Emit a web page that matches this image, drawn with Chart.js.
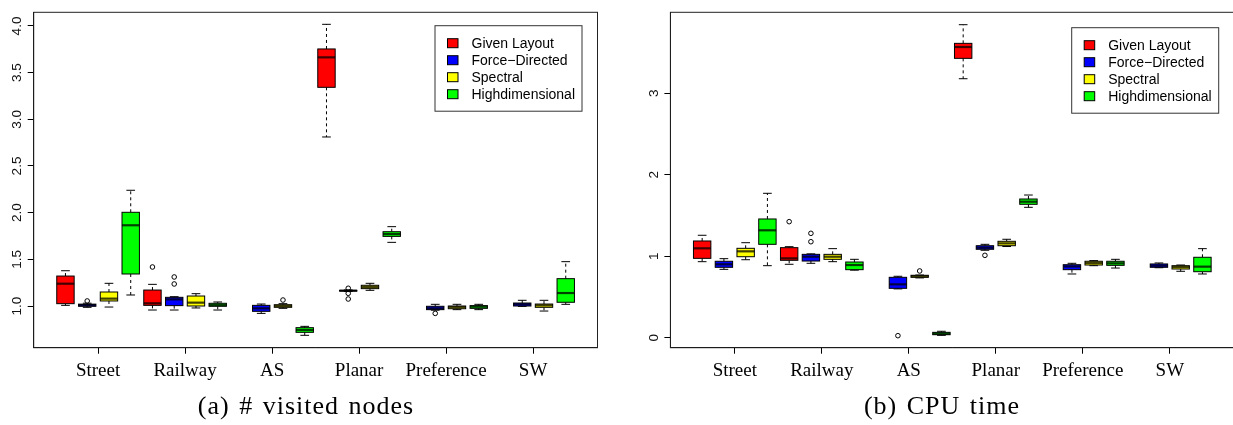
<!DOCTYPE html>
<html>
<head>
<meta charset="utf-8">
<script src="https://cdn.jsdelivr.net/npm/chart.js@4.4.1/dist/chart.umd.min.js"></script>
<style>
  html, body { margin: 0; padding: 0; background: #fff; }
  body { position: relative; width: 1233px; height: 425px; overflow: hidden; }
  .panel { position: absolute; top: 0; height: 425px; }
  #panelA { left: 0; width: 616px; }
  #panelB { left: 616px; width: 630px; }
  .caption {
    position: absolute; top: 391px; width: 340px; text-align: center;
    font-family: "Liberation Serif", "Times New Roman", serif; font-size: 26px;
    letter-spacing: 1px; word-spacing: 2px; color: #000; white-space: nowrap;
  }
  #capA { left: 136px; }
  #capB { left: 772px; }
</style>
</head>
<body>
<div class="panel" id="panelA"><canvas id="chartA" width="616" height="425"></canvas></div>
<div class="panel" id="panelB"><canvas id="chartB" width="630" height="425"></canvas></div>
<div class="caption" id="capA">(a) # visited nodes</div>
<div class="caption" id="capB">(b) CPU time</div>

<script>
// Graph classes on the x axis and the four layout methods compared in each class
const categories = ['Street', 'Railway', 'AS', 'Planar', 'Preference', 'SW'];
const seriesNames = ['Given Layout', 'Force\u2212Directed', 'Spectral', 'Highdimensional'];
const seriesColors = ['#ff0000', '#0000ff', '#ffff00', '#00ff00'];

// Box statistics per class: [lower whisker, Q1, median, Q3, upper whisker]; null = not measured
const visitedGiven    = [[1.007, 1.025, 1.239, 1.321, 1.378], [0.957, 1.007, 1.029, 1.171, 1.232], null, [2.811, 3.343, 3.664, 3.754, 4.018], null, null];
const visitedForce    = [[0.986, 0.997, 1.010, 1.020, 1.030], [0.957, 1.004, 1.071, 1.093, 1.100], [0.921, 0.943, 0.975, 1.007, 1.021], [1.155, 1.160, 1.164, 1.168, 1.172], [0.955, 0.961, 0.975, 0.997, 1.018], [0.996, 1.000, 1.018, 1.032, 1.061]];
const visitedSpectral = [[0.989, 1.054, 1.079, 1.150, 1.243], [0.979, 1.000, 1.036, 1.107, 1.132], [0.975, 0.986, 1.000, 1.014, 1.025], [1.168, 1.186, 1.204, 1.222, 1.243], [0.961, 0.971, 0.989, 1.000, 1.018], [0.946, 0.986, 1.007, 1.021, 1.061]];
const visitedHighdim  = [[1.118, 1.343, 1.865, 2.004, 2.240], [0.957, 0.997, 1.010, 1.029, 1.043], [0.686, 0.718, 0.743, 0.768, 0.782], [1.682, 1.746, 1.771, 1.796, 1.850], [0.961, 0.975, 0.993, 1.004, 1.018], [1.018, 1.040, 1.139, 1.293, 1.475]];

const cpuGiven    = [[0.934, 0.975, 1.098, 1.188, 1.258], [0.902, 0.951, 0.975, 1.106, 1.118], null, [3.179, 3.429, 3.568, 3.613, 3.842], null, null];
const cpuForce    = [[0.840, 0.865, 0.902, 0.939, 0.971], [0.914, 0.942, 0.995, 1.024, 1.030], [0.600, 0.607, 0.656, 0.742, 0.755], [1.074, 1.086, 1.106, 1.130, 1.147], [0.783, 0.836, 0.875, 0.897, 0.914], [0.860, 0.865, 0.885, 0.906, 0.918]];
const cpuSpectral = [[0.958, 0.995, 1.061, 1.098, 1.167], [0.934, 0.963, 0.995, 1.024, 1.094], [0.735, 0.742, 0.755, 0.767, 0.770], [1.120, 1.130, 1.159, 1.184, 1.209], [0.885, 0.893, 0.918, 0.939, 0.947], [0.816, 0.844, 0.868, 0.885, 0.893]];
const cpuHighdim  = [[0.885, 1.147, 1.319, 1.458, 1.773], [0.830, 0.836, 0.893, 0.930, 0.963], [0.030, 0.038, 0.050, 0.067, 0.080], [1.601, 1.638, 1.670, 1.703, 1.752], [0.856, 0.889, 0.914, 0.939, 0.963], [0.783, 0.811, 0.873, 0.988, 1.094]];

// Outlying observations per class
const visitedGivenOut    = [[], [1.418], [], [], [], []];
const visitedForceOut    = [[1.054], [1.311, 1.236], [], [1.190, 1.136, 1.075], [0.921], []];
const visitedSpectralOut = [[], [], [1.064], [], [], []];
const visitedHighdimOut  = [[], [], [], [], [], []];

const cpuGivenOut    = [[], [1.425], [], [], [], []];
const cpuForceOut    = [[], [1.282, 1.179], [0.026], [1.012], [], []];
const cpuSpectralOut = [[], [], [0.820], [], [], []];
const cpuHighdimOut  = [[], [], [], [], [], []];

// Axis ticks
const categoryTicks = [2.5, 6.5, 10.5, 14.5, 18.5, 22.5];
const visitedTicks = [1.0, 1.5, 2.0, 2.5, 3.0, 3.5, 4.0];
const visitedTickLabels = ['1.0', '1.5', '2.0', '2.5', '3.0', '3.5', '4.0'];
const cpuTicks = [0, 1, 2, 3];
const cpuTickLabels = ['0', '1', '2', '3'];

// Box position along the x axis: four boxes per class, one slot each
const slot = (series, cat) => 4 * cat + series + 1;

function buildDatasets(statsList, outList) {
  return statsList.map((stats, s) => ({
    label: seriesNames[s],
    stats: stats,
    boxColor: seriesColors[s],
    data: outList[s].flatMap((vals, c) => vals.map(v => ({ x: slot(s, c), y: v }))),
    pointStyle: 'circle',
    pointRadius: 2.3,
    pointBorderWidth: 1,
    pointBorderColor: '#000',
    pointBackgroundColor: 'rgba(255,255,255,0)',
    showLine: false
  }));
}

function strokeSeg(ctx, x1, y1, x2, y2) {
  ctx.beginPath(); ctx.moveTo(x1, y1); ctx.lineTo(x2, y2); ctx.stroke();
}

// Draws whiskers, staples, boxes and medians from each dataset's stats
const boxPlotPlugin = {
  id: 'boxPlot',
  beforeDatasetsDraw(chart) {
    const { ctx, scales: { x, y } } = chart;
    const half = (x.getPixelForValue(1.4) - x.getPixelForValue(1.0));
    chart.data.datasets.forEach((ds, s) => {
      ds.stats.forEach((st, c) => {
        if (!st) return;
        const cx = x.getPixelForValue(slot(s, c));
        const [lo, q1, med, q3, hi] = st.map(v => y.getPixelForValue(v));
        ctx.save();
        ctx.strokeStyle = '#000';
        ctx.lineWidth = 1;
        ctx.setLineDash([3, 3]);
        strokeSeg(ctx, cx, q3, cx, hi);
        strokeSeg(ctx, cx, q1, cx, lo);
        ctx.setLineDash([]);
        strokeSeg(ctx, cx - half / 2, hi, cx + half / 2, hi);
        strokeSeg(ctx, cx - half / 2, lo, cx + half / 2, lo);
        ctx.fillStyle = ds.boxColor;
        ctx.fillRect(cx - half, q3, 2 * half, q1 - q3);
        ctx.strokeRect(cx - half, q3, 2 * half, q1 - q3);
        ctx.lineWidth = 2.2;
        ctx.strokeStyle = 'rgba(0,0,0,0.75)';
        strokeSeg(ctx, cx - half, med, cx + half, med);
        ctx.restore();
      });
    });
  }
};

// Frame, rotated y tick labels and the boxed legend
const framePlugin = {
  id: 'frame',
  afterDraw(chart, args, opts) {
    const { ctx, chartArea: a, scales: { y } } = chart;
    ctx.save();
    ctx.strokeStyle = '#222';
    ctx.lineWidth = 1;
    ctx.strokeRect(a.left, a.top, a.right - a.left, a.bottom - a.top);

    ctx.fillStyle = '#111';
    ctx.font = '13.5px "Liberation Sans", Arial, sans-serif';
    ctx.textAlign = 'center';
    ctx.textBaseline = 'middle';
    opts.tickValues.forEach((v, i) => {
      ctx.save();
      ctx.translate(a.left - 16.5, y.getPixelForValue(v));
      ctx.rotate(-Math.PI / 2);
      ctx.fillText(opts.tickLabels[i], 0, 0);
      ctx.restore();
    });

    const lw = 147, lh = 85.5;
    const lx = a.right - opts.legendInsetX - lw;
    const ly = a.top + opts.legendInsetY;
    ctx.fillStyle = '#fff';
    ctx.fillRect(lx, ly, lw, lh);
    ctx.strokeStyle = '#333';
    ctx.strokeRect(lx, ly, lw, lh);
    ctx.font = '14px "Liberation Sans", Arial, sans-serif';
    ctx.textAlign = 'left';
    seriesNames.forEach((name, i) => {
      const cy = ly + 17.5 + 17 * i;
      ctx.fillStyle = seriesColors[i];
      ctx.fillRect(lx + 12.5, cy - 4.5, 10.5, 9);
      ctx.strokeStyle = '#000';
      ctx.strokeRect(lx + 12.5, cy - 4.5, 10.5, 9);
      ctx.fillStyle = '#000';
      ctx.fillText(name, lx + 36.5, cy + 0.5);
    });
    ctx.restore();
  }
};

function makeChart(canvasId, datasets, yMin, yMax, yTicks, yLabels, geom) {
  return new Chart(document.getElementById(canvasId), {
    type: 'scatter',
    data: { datasets },
    plugins: [boxPlotPlugin, framePlugin],
    options: {
      responsive: false,
      animation: false,
      events: [],
      layout: { padding: { top: geom.top, right: geom.right, left: 0, bottom: 0 } },
      plugins: {
        legend: { display: false },
        tooltip: { enabled: false },
        frame: { tickValues: yTicks, tickLabels: yLabels, legendInsetX: geom.legX, legendInsetY: geom.legY }
      },
      scales: {
        x: {
          type: 'linear',
          min: -0.46,
          max: 25.46,
          afterBuildTicks: s => { s.ticks = categoryTicks.map(v => ({ value: v })); },
          afterFit: s => { s.height = 425 - geom.bottom; },
          ticks: {
            autoSkip: false, maxRotation: 0, minRotation: 0, padding: 6,
            color: '#000',
            font: { family: '"Liberation Serif", "Times New Roman", serif', size: 19 },
            callback: (v, i) => categories[i]
          },
          grid: { drawOnChartArea: false, drawTicks: true, tickLength: 6, tickColor: '#000' },
          border: { display: true, color: '#000', width: 1 }
        },
        y: {
          type: 'linear',
          min: yMin,
          max: yMax,
          afterBuildTicks: s => { s.ticks = yTicks.map(v => ({ value: v })); },
          afterFit: s => { s.width = geom.left; },
          ticks: { display: false },
          grid: { drawOnChartArea: false, drawTicks: true, tickLength: 6, tickColor: '#000' },
          border: { display: true, color: '#000', width: 1 }
        }
      }
    }
  });
}

makeChart('chartA',
  buildDatasets([visitedGiven, visitedForce, visitedSpectral, visitedHighdim],
                [visitedGivenOut, visitedForceOut, visitedSpectralOut, visitedHighdimOut]),
  0.5533, 4.1467, visitedTicks, visitedTickLabels,
  { top: 12.3, bottom: 347.7, left: 33.7, right: 616 - 597.5, legX: 15.5, legY: 13.4 });

makeChart('chartB',
  buildDatasets([cpuGiven, cpuForce, cpuSpectral, cpuHighdim],
                [cpuGivenOut, cpuForceOut, cpuSpectralOut, cpuHighdimOut]),
  -0.1215, 3.994, cpuTicks, cpuTickLabels,
  { top: 12.3, bottom: 347.7, left: 54.4, right: 630 - 618.2, legX: 15.5, legY: 15.4 });
</script>
</body>
</html>
